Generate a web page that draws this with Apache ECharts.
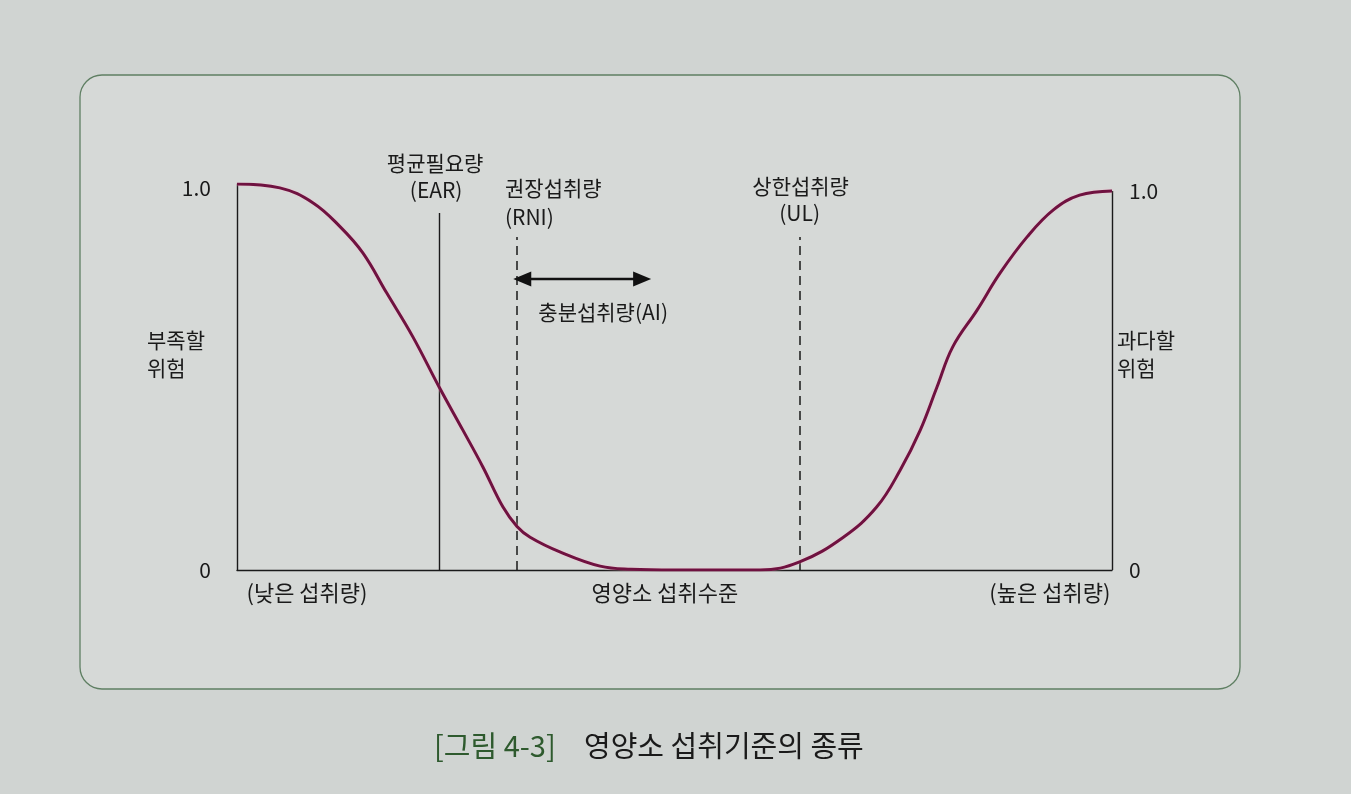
<!DOCTYPE html>
<html>
<head>
<meta charset="utf-8">
<script src="https://cdn.jsdelivr.net/npm/echarts@6/dist/echarts.min.js"></script>
<style>
html,body{margin:0;padding:0;background:#d0d4d2;}
#c{width:1351px;height:794px;}
</style>
</head>
<body>
<div id="c"></div>
<script>
// ---- data ----
const curveX = [0, 4.9, 8.7, 11.8, 14.4, 17.1, 20.1, 23.1, 25.8, 28.1, 30.4, 32.0, 33.5, 36.9, 41.5, 45, 50, 55, 59.8, 64.3, 69.3, 73.1, 75.8, 78.1, 80.0, 81.8, 84.6, 87.2, 90.3, 93.3, 96.3, 100];
const curveY = [1.0, 0.99, 0.951, 0.889, 0.821, 0.718, 0.604, 0.474, 0.363, 0.267, 0.163, 0.113, 0.085, 0.047, 0.01, 0.002, 0, 0, 0, 0.021, 0.085, 0.163, 0.259, 0.363, 0.474, 0.578, 0.674, 0.769, 0.863, 0.933, 0.971, 0.982];

const refLabels = [['평균필요량', '(EAR)'], ['권장섭취량', '(RNI)'], ['상한섭취량', '(UL)']];
const refX = [23.1, 32.0, 64.3];
const refTop = [0.925, 0.863, 0.863];
const refDashed = [false, true, true];

const aiRange = [32.6, 46.3];
const aiLevel = 0.754;
const aiLabel = '충분섭취량(AI)';

const rightEnd = 0.982;
const leftTickLabels = ['0', '1.0'];
const rightTickLabels = ['0', '1.0'];

const bottomLabels = ['(낮은 섭취량)', '영양소 섭취수준', '(높은 섭취량)'];
const bottomLabelX = [8.0, 48.9, 92.9];

const leftRisk = ['부족할', '위험'];
const rightRisk = ['과다할', '위험'];
const captionNo = '[그림 4-3]';
const captionText = '영양소 섭취기준의 종류';

// ---- chart ----
const FONT = '"Noto Sans CJK KR", "Noto Sans", sans-serif';
const INK = '#1a1a1a';
const chart = echarts.init(document.getElementById('c'), null, { renderer: 'canvas' });

const markData = [];
refX.forEach((x, i) => {
  markData.push([
    { coord: [x, 0], lineStyle: { color: INK, width: refDashed[i] ? 1.5 : 1.4, type: refDashed[i] ? [9, 6] : 'solid' } },
    { coord: [x, refTop[i]] }
  ]);
});
markData.push([
  { coord: [100, 0], lineStyle: { color: INK, width: 1.4, type: 'solid' } },
  { coord: [100, rightEnd] }
]);
markData.push([
  { coord: [aiRange[0], aiLevel], symbol: 'triangle', symbolSize: [15, 18], lineStyle: { color: '#111', width: 2.4, type: 'solid' } },
  { coord: [aiRange[1], aiLevel], symbol: 'triangle', symbolSize: [15, 18] }
]);

const option = {
  backgroundColor: '#d0d4d2',
  animation: false,
  textStyle: { fontFamily: FONT },
  grid: { left: 237, right: 1351 - 1112, top: 184, bottom: 794 - 570 },
  xAxis: {
    type: 'value', min: 0, max: 100,
    axisLine: { show: true, lineStyle: { color: INK, width: 1.4 } },
    axisTick: { show: false }, axisLabel: { show: false }, splitLine: { show: false }
  },
  yAxis: [
    {
      type: 'value', min: 0, max: 1, interval: 1, position: 'left',
      axisLine: { show: true, lineStyle: { color: INK, width: 1.4 } },
      axisTick: { show: false }, splitLine: { show: false },
      axisLabel: {
        margin: 26,
        formatter: v => (v === 0 ? '{z|' + leftTickLabels[0] + '}' : '{o|' + leftTickLabels[1] + '}'),
        rich: {
          z: { fontSize: 21, color: INK, fontFamily: FONT },
          o: { fontSize: 21, color: INK, fontFamily: FONT, padding: [8, 0, 0, 0] }
        }
      }
    },
    {
      type: 'value', min: 0, max: 1, interval: rightEnd, position: 'right',
      axisLine: { show: false }, axisTick: { show: false }, splitLine: { show: false },
      axisLabel: {
        margin: 17, showMaxLabel: false,
        fontSize: 21, color: INK, fontFamily: FONT,
        formatter: v => (v > 0.5 ? rightTickLabels[1] : rightTickLabels[0])
      }
    }
  ],
  series: [
    {
      type: 'line',
      data: curveX.map((x, i) => [x, curveY[i]]),
      showSymbol: false,
      smooth: 0.4,
      lineStyle: { color: '#6f1240', width: 3, shadowColor: 'rgba(255,190,210,0.7)', shadowBlur: 2 },
      z: 5
    },
    {
      type: 'line',
      data: [],
      markLine: {
        silent: true,
        symbol: ['none', 'none'],
        label: { show: false },
        data: markData
      }
    }
  ]
};
chart.setOption(option);

// text placed through the chart's coordinate system
const px = (x, y) => chart.convertToPixel({ gridIndex: 0 }, [x, y]);
const T = (x, y, text, opts = {}) => ({
  type: 'text', x, y, silent: true,
  style: Object.assign({
    text, fill: INK, font: '21px ' + FONT, textAlign: 'center', textVerticalAlign: 'middle'
  }, opts)
});

const g = [];
// panel
g.push({
  type: 'rect', z: -10, silent: true,
  shape: { x: 80, y: 75, width: 1160, height: 614, r: 22 },
  style: { fill: '#d6d9d7', stroke: '#5f7f63', lineWidth: 1.3 }
});
// reference labels
const ear = px(refX[0], refTop[0]);
g.push(T(ear[0] - 4, ear[1] - 50, refLabels[0][0]));
g.push(T(ear[0] - 3, ear[1] - 23, refLabels[0][1]));
const rni = px(refX[1], refTop[1]);
g.push(T(rni[0] - 12, rni[1] - 49, refLabels[1][0], { textAlign: 'left' }));
g.push(T(rni[0] - 12, rni[1] - 20, refLabels[1][1], { textAlign: 'left' }));
const ul = px(refX[2], refTop[2]);
g.push(T(ul[0] + 1, ul[1] - 51, refLabels[2][0]));
g.push(T(ul[0], ul[1] - 24, refLabels[2][1]));
// AI label
const ai = px((aiRange[0] + aiRange[1]) / 2, aiLevel);
g.push(T(ai[0] + 21, ai[1] + 33, aiLabel));
// risk labels
g.push(T(147, 340, leftRisk[0], { textAlign: 'left' }));
g.push(T(147, 368, leftRisk[1], { textAlign: 'left' }));
g.push(T(1117, 340, rightRisk[0], { textAlign: 'left' }));
g.push(T(1117, 368, rightRisk[1], { textAlign: 'left' }));
// bottom labels
bottomLabels.forEach((t, i) => {
  const p = px(bottomLabelX[i], 0);
  g.push(T(p[0], p[1] + 23, t, { font: '22px ' + FONT }));
});
// caption
g.push({
  type: 'text', x: 434, y: 746, silent: true,
  style: { text: captionNo, fill: '#2e5a2e', font: '29px ' + FONT, textAlign: 'left', textVerticalAlign: 'middle' }
});
g.push({
  type: 'text', x: 584, y: 746, silent: true,
  style: { text: captionText, fill: '#1a1a1a', font: '29px ' + FONT, textAlign: 'left', textVerticalAlign: 'middle' }
});
chart.setOption({ graphic: g });
</script>
</body>
</html>
